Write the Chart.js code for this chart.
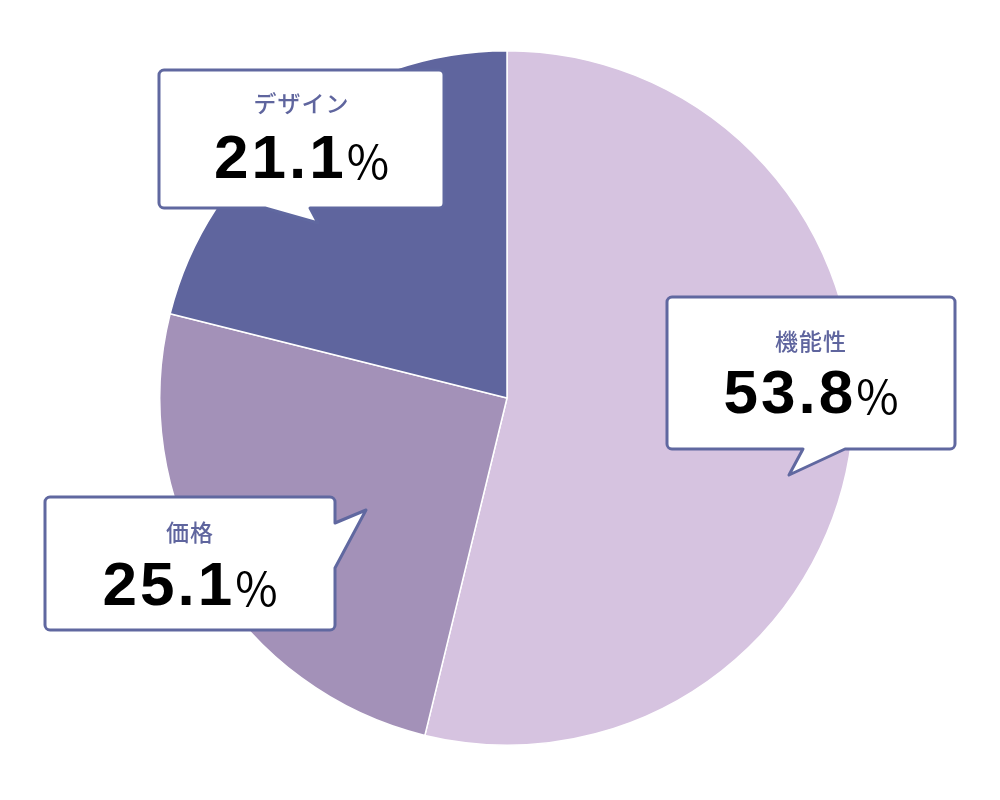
<!DOCTYPE html>
<html>
<head>
<meta charset="utf-8">
<script src="https://cdn.jsdelivr.net/npm/chart.js@4/dist/chart.umd.min.js"></script>
<style>
  html, body { margin: 0; padding: 0; background: #fff; }
  #wrap { width: 1000px; height: 800px; }
</style>
</head>
<body>
<div id="wrap"><canvas id="share"></canvas></div>
<script>
const labels = ['機能性', '価格', 'デザイン'];
const shares = [53.8, 25.1, 21.1];
const sliceColors = ['#d6c3e0', '#a391b8', '#5f659e'];

// callout boxes: box rect + speech tail (base, tip, base)
const callouts = [
    { box: [667, 297, 288, 152], tail: [[845, 449], [789, 475], [803, 449]], side: 'bottom', labelY: 341, numY: 413 },
    { box: [45, 497, 290, 133], tail: [[335, 523], [366, 510], [335, 568]], side: 'right', labelY: 532, numY: 605 },
    { box: [159, 70, 285, 138], tail: [[310, 208], [318, 223], [265, 208]], side: 'bottom', labelY: 103, numY: 178 }
];

const frameColor = '#6068a0';
const numFont = 'bold 62px "Liberation Sans", Arial, sans-serif';
const pctFont = '400 46px "Noto Sans CJK JP"';
const numSpacing = '3px';

function calloutPath(ctx, c) {
    const [x, y, w, h] = c.box;
    const r = 5;
    let pts;
    if (c.side === 'bottom') {
        pts = [[x, y, r], [x + w, y, r], [x + w, y + h, r],
            [c.tail[0][0], c.tail[0][1], 0], [c.tail[1][0], c.tail[1][1], 0], [c.tail[2][0], c.tail[2][1], 0],
            [x, y + h, r]];
    } else {
        pts = [[x, y, r], [x + w, y, r],
            [c.tail[0][0], c.tail[0][1], 0], [c.tail[1][0], c.tail[1][1], 0], [c.tail[2][0], c.tail[2][1], 0],
            [x + w, y + h, r], [x, y + h, r]];
    }
    ctx.beginPath();
    const n = pts.length;
    const last = pts[n - 1], first = pts[0];
    ctx.moveTo((last[0] + first[0]) / 2, (last[1] + first[1]) / 2);
    for (let i = 0; i < n; i++) {
        const p = pts[i], q = pts[(i + 1) % n];
        if (p[2] > 0) ctx.arcTo(p[0], p[1], q[0], q[1], p[2]);
        else ctx.lineTo(p[0], p[1]);
    }
    ctx.closePath();
}

const calloutPlugin = {
    id: 'callouts',
    afterDraw(chart) {
        const ctx = chart.ctx;
        const data = chart.data.datasets[0].data;
        callouts.forEach((c, i) => {
            ctx.save();
            calloutPath(ctx, c);
            ctx.fillStyle = '#fff';
            ctx.fill();
            ctx.lineWidth = 3;
            ctx.lineJoin = 'round';
            ctx.strokeStyle = frameColor;
            ctx.stroke();

            const cx = c.box[0] + c.box[2] / 2;
            ctx.textBaseline = 'middle';
            ctx.textAlign = 'center';
            ctx.fillStyle = '#5f659e';
            ctx.font = '500 23px "Noto Sans CJK JP"';
            ctx.letterSpacing = '1px';
            ctx.fillText(chart.data.labels[i], cx, c.labelY);

            const num = data[i].toFixed(1);
            ctx.textBaseline = 'alphabetic';
            ctx.textAlign = 'left';
            ctx.font = numFont;
            ctx.letterSpacing = numSpacing;
            const nw = ctx.measureText(num).width;
            ctx.font = pctFont;
            ctx.letterSpacing = '0px';
            const pw = ctx.measureText('%').width;
            const sx = cx - (nw + pw) / 2;
            ctx.fillStyle = '#000';
            ctx.font = numFont;
            ctx.letterSpacing = numSpacing;
            ctx.fillText(num, sx, c.numY);
            ctx.font = pctFont;
            ctx.letterSpacing = '0px';
            ctx.fillText('%', sx + nw, c.numY + 1);
            ctx.restore();
        });
    }
};

new Chart(document.getElementById('share'), {
    type: 'pie',
    data: {
        labels: labels,
        datasets: [{
            data: shares,
            backgroundColor: sliceColors,
            borderColor: '#ffffff',
            borderWidth: 1.5,
            hoverOffset: 0
        }]
    },
    options: {
        responsive: true,
        maintainAspectRatio: false,
        animation: false,
        layout: { padding: { top: 50, bottom: 54, left: 159, right: 145 } },
        plugins: {
            legend: { display: false },
            tooltip: { enabled: false }
        }
    },
    plugins: [calloutPlugin]
});
</script>
</body>
</html>
